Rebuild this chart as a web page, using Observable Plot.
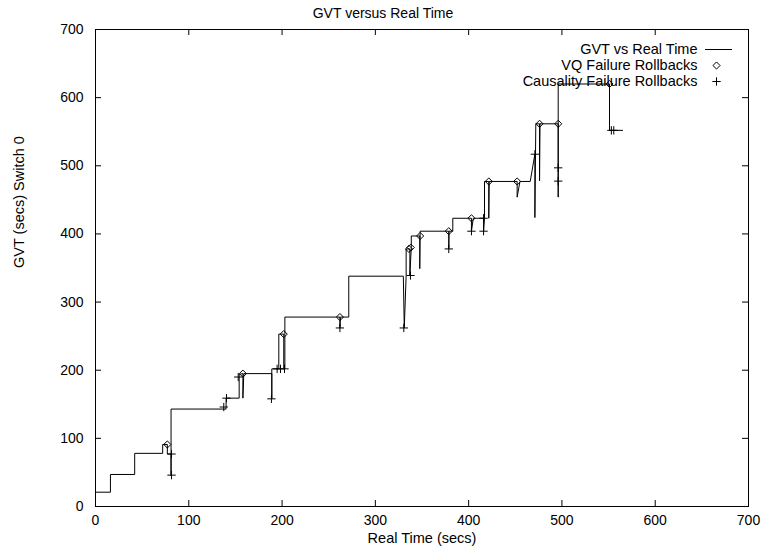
<!DOCTYPE html>
<html>
<head>
<meta charset="utf-8">
<script src="https://cdn.jsdelivr.net/npm/d3@7"></script>
<script src="https://cdn.jsdelivr.net/npm/@observablehq/plot@0.6"></script>
<style>
  html, body { margin: 0; padding: 0; background: #fff; }
</style>
</head>
<body>
<div id="chart"></div>
<script>
// GVT vs Real Time (step line, including rollback dips)
const gvtTime  = [0,16,16,42,42,72,72,77,77,81,81,81,140,140,154,154,158,158,159,189,189,189,196.5,196.5,201.8,201.8,203,203,262,262,262.5,271.5,271.5,330,331,333,333,337,337,338.5,338.5,347.6,347.6,348,378.7,378.7,379,383,383,403,403,405,416,416,417,417,421.6,421.6,422,452,452,455,466,471,471,472,476,476,476.5,496,496,496,551,551,565];
const gvtValue = [21,21,47,47,78,78,91,91,77,77,45,143,143,159,159,194,195,159,195,195,158,202,202,253,253,202,202,278,278,262,278,278,338,338,262,339,378,378,339,380,397,397,349,404,404,378,404,404,423,423,404,423,423,404,423,477,477,423,477,477,454,477,477,517,424,561.6,561.6,478,561.6,561.6,454,620,620,552,552];

// VQ Failure Rollbacks (diamonds)
const vqTime  = [77,158,201.8,262,336,338,348,378.7,403,421.6,452,476,496,551];
const vqValue = [91,195,253,278,378,380,397,404,423,477,477,561.6,561.6,620];

// Causality Failure Rollbacks (plus signs)
const causTime  = [81.5,81.5,137.5,140.4,153,188.6,194.7,198.3,202.6,262,330.5,337.6,378.7,403,416,416,471,496,496,553,555.6];
const causValue = [77,46,146,159,190,158,202,202,202,262,262,339,378,404,423,404,517,497,477.5,552,552];

const xTicks = [0,100,200,300,400,500,600,700];
const yTicks = [0,100,200,300,400,500,600,700];

const titleText = "GVT versus Real Time";
const xLabel = "Real Time (secs)";
const yLabel = "GVT (secs) Switch 0";
const legendLabels = ["GVT vs Real Time", "VQ Failure Rollbacks", "Causality Failure Rollbacks"];

const gvt = gvtTime.map((t, i) => ({t, v: gvtValue[i]}));
const vq = vqTime.map((t, i) => ({t, v: vqValue[i]}));
const caus = causTime.map((t, i) => ({t, v: causValue[i]}));

const W = 765, H = 551, mL = 95, mR = 17, mT = 29, mB = 45;
const plotW = W - mL - mR, plotH = H - mT - mB;
const tk = 6;
const fs = 14.5;

const lineSymbol = { draw(ctx) { ctx.moveTo(-13.5, 0); ctx.lineTo(13.5, 0); } };

const legendMarks = [];
legendLabels.forEach((label, i) => {
  legendMarks.push(Plot.text([label], {text: d => d, frameAnchor: "top-right", lineAnchor: "middle", dx: -51, dy: 20 + 16 * i, textAnchor: "end", fill: "black", fontSize: fs}));
});
legendMarks.push(Plot.dot([0], {frameAnchor: "top-right", dx: -30, dy: 20, symbol: lineSymbol, stroke: "black", strokeWidth: 1}));
legendMarks.push(Plot.dot([0], {frameAnchor: "top-right", dx: -32, dy: 36, symbol: "diamond2", r: 3.2, stroke: "black", strokeWidth: 1, fill: "none"}));
legendMarks.push(Plot.dot([0], {frameAnchor: "top-right", dx: -32, dy: 52, symbol: "plus", r: 2.8, stroke: "black", strokeWidth: 1}));

const chart = Plot.plot({
  width: W, height: H,
  marginLeft: mL, marginRight: mR, marginTop: mT, marginBottom: mB,
  x: {domain: [0, 700]},
  y: {domain: [0, 700]},
  style: {fontFamily: "'Liberation Sans', Arial, Helvetica, sans-serif", fontSize: fs + "px", background: "white", color: "black"},
  marks: [
    Plot.frame({stroke: "black", strokeWidth: 1}),
    Plot.tickX(xTicks, {x: d => d, insetTop: plotH - tk, stroke: "black"}),
    Plot.tickX(xTicks, {x: d => d, insetBottom: plotH - tk, stroke: "black"}),
    Plot.tickY(yTicks, {y: d => d, insetRight: plotW - tk, stroke: "black"}),
    Plot.tickY(yTicks, {y: d => d, insetLeft: plotW - tk, stroke: "black"}),
    Plot.axisX({ticks: xTicks, tickSize: 0, tickPadding: 9, label: null, tickFormat: d => String(d), fontSize: 14}),
    Plot.axisY({ticks: yTicks, tickSize: 0, tickPadding: 12, label: null, tickFormat: d => String(d), fontSize: 14}),
    Plot.line(gvt, {x: "t", y: "v", stroke: "black", strokeWidth: 1, curve: "linear"}),
    Plot.dot(vq, {x: "t", y: "v", symbol: "diamond2", r: 3.2, stroke: "black", strokeWidth: 1, fill: "none"}),
    Plot.dot(caus, {x: "t", y: "v", symbol: "plus", r: 2.8, stroke: "black", strokeWidth: 1}),
    Plot.text([titleText], {text: d => d, frameAnchor: "top", lineAnchor: "middle", dy: -16, dx: -39, fill: "black", fontSize: 14}),
    Plot.text([xLabel], {text: d => d, frameAnchor: "bottom", lineAnchor: "middle", dy: 32, fill: "black", fontSize: fs}),
    Plot.text([yLabel], {text: d => d, frameAnchor: "left", lineAnchor: "middle", dx: -76, rotate: -90, fill: "black", fontSize: fs}),
    ...legendMarks
  ]
});
document.getElementById("chart").appendChild(chart);
</script>
</body>
</html>
